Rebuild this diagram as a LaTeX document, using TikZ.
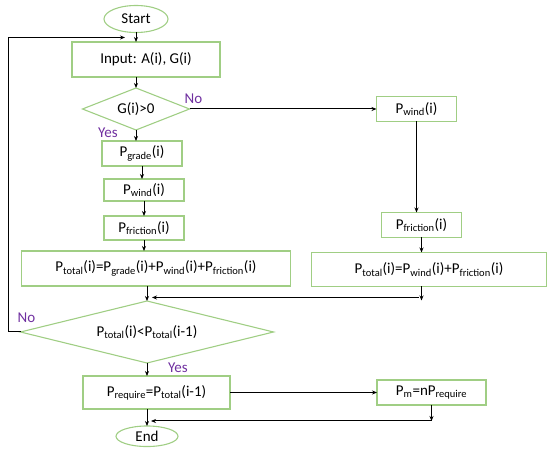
\documentclass[tikz,border=0pt]{standalone}
\usepackage{fontspec}
\setmainfont{Carlito}
\usetikzlibrary{arrows.meta, positioning, shapes.geometric, calc}
\definecolor{cgreen}{RGB}{160, 206, 132}
\definecolor{cpurple}{RGB}{112, 48, 160}
\tikzset{
  box/.style={draw=cgreen, line width=1.1pt, align=center, inner sep=2pt, outer sep=0pt,
              font=\fontsize{15}{17}\selectfont},
  term/.style={box, ellipse},
  cond/.style={box, diamond, inner sep=0pt},
  arr/.style={-{Stealth[length=5pt, width=4pt]}, line width=1pt, draw=black},
  lab/.style={font=\fontsize{15}{17}\selectfont, text=cpurple, inner sep=0pt},
}

\begin{document}
\begin{tikzpicture}[x=1pt, y=1pt]
\useasboundingbox (0,0) rectangle (550,-449);

% ---------- left column: G(i) > 0 ----------
\node[term, minimum width=64pt, minimum height=27pt] (start) at (136,-19) {Start};
\node[box, minimum width=148pt, minimum height=35pt, below=9.5pt of start, xshift=10pt] (input)
  {Input: A(i), G(i)};
\node[cond, aspect=2.55, minimum width=107pt, minimum height=42pt, below=11pt of input, xshift=-10pt] (test)
  {G(i)>0};
\node[box, minimum width=80pt, minimum height=25pt, below=11pt of test, xshift=6pt] (grade)
  {P\textsubscript{grade}(i)};
\node[box, minimum width=80pt, minimum height=22pt, below=13pt of grade, xshift=2pt] (windL)
  {P\textsubscript{wind}(i)};
\node[box, minimum width=80pt, minimum height=24pt, below=15pt of windL] (fricL)
  {P\textsubscript{friction}(i)};
\node[box, minimum width=269pt, minimum height=35pt, below=11pt of fricL, xshift=12pt] (totalL)
  {P\textsubscript{total}(i)=P\textsubscript{grade}(i)+P\textsubscript{wind}(i)+P\textsubscript{friction}(i)};

% ---------- right column: G(i) <= 0 ----------
\node[box, minimum width=80pt, minimum height=25pt, right=187pt of test] (windR)
  {P\textsubscript{wind}(i)};
\node[box, minimum width=80pt, minimum height=25pt, below=91pt of windR, xshift=5pt] (fricR)
  {P\textsubscript{friction}(i)};
\node[box, minimum width=235pt, minimum height=34pt, below=15pt of fricR, xshift=7.5pt] (totalR)
  {P\textsubscript{total}(i)=P\textsubscript{wind}(i)+P\textsubscript{friction}(i)};

% ---------- comparison and result ----------
\node[cond, aspect=4.08, minimum width=253pt, minimum height=62pt, below=15pt of totalL, xshift=-9pt] (compare)
  {P\textsubscript{total}(i)<P\textsubscript{total}(i-1)};
\node[box, minimum width=147pt, minimum height=33pt, below=13pt of compare, xshift=9.5pt] (require)
  {P\textsubscript{require}=P\textsubscript{total}(i-1)};
\node[box, minimum width=109pt, minimum height=25pt, right=147pt of require] (motor)
  {P\textsubscript{m}=nP\textsubscript{require}};
\node[term, minimum width=62pt, minimum height=20pt, below=17pt of require, xshift=-9.5pt] (stop)
  {End};

% ---------- branch labels ----------
\node[lab] (no1) at ([xshift=4pt, yshift=10pt]test.east) {No};
\node[lab] (yes1) at ([xshift=-28pt, yshift=-3pt]test.south) {Yes};
\node[lab] (no2) at ([xshift=6pt, yshift=14pt]compare.west) {No};
\node[lab] (yes2) at ([xshift=31pt, yshift=-5pt]compare.south) {Yes};

% ---------- connectors ----------
\coordinate (loopin) at ([xshift=-11pt, yshift=-5pt]start.south);
\coordinate (mergeR) at ([yshift=-11pt]fricR.south |- totalR.south);
\coordinate (mergeB) at ([yshift=-16pt]motor.south);

\draw[arr] (start.south) -- (start.south |- input.north);
\draw[arr] (test.north |- input.south) -- (test.north);
\draw[arr] (test.south) -- (test.south |- grade.north);
\draw[arr] (grade.south) -- (grade.south |- windL.north);
\draw[arr] (windL.south) -- (windL.south |- fricL.north);
\draw[arr] (fricL.south) -- (fricL.south |- totalL.north);
\draw[arr] (compare.north |- totalL.south) -- (compare.north);

\draw[arr] (test.east) -- (windR.west);
\draw[arr] (windR.south) -- (windR.south |- fricR.north);
\draw[arr] (fricR.south) -- (fricR.south |- totalR.north);
\draw[arr] (fricR.south |- totalR.south) -- ([yshift=-3pt]mergeR);
\draw[arr] ([xshift=-3pt]mergeR) -- ([xshift=5pt]mergeR -| compare.north);

\draw[arr] (compare.west) -- ++(-12pt,0) |- (loopin);
\draw[arr] (compare.south) -- (compare.south |- require.north);
\draw[arr] (require.east) -- (require.east -| motor.west);
\draw[arr] (motor.south) -- (mergeB);
\draw[arr] (mergeB) -- ([xshift=4pt]mergeB -| stop.north);
\draw[arr] (stop.north |- require.south) -- (stop.north);

\end{tikzpicture}
\end{document}
